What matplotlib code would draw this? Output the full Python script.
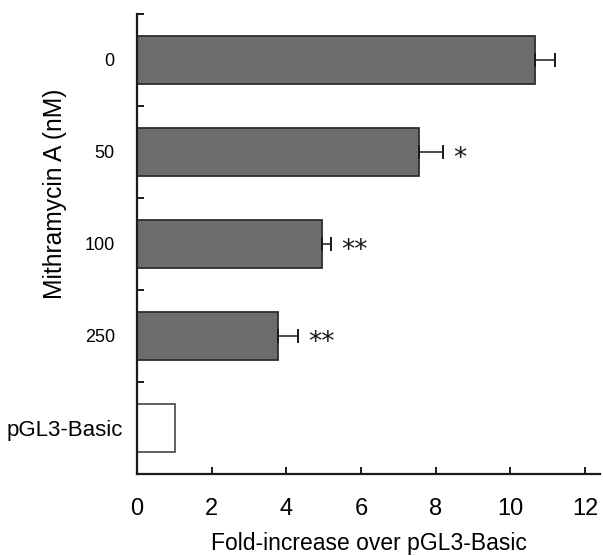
import matplotlib
matplotlib.use("Agg")
from matplotlib import pyplot as plt
from matplotlib.transforms import ScaledTranslation
import numpy as np

# Luciferase activity per treatment, top to bottom
groups = ["0", "50", "100", "250", "pGL3-Basic"]
fold = [10.66, 7.55, 4.95, 3.78, 1.03]
err = [0.53, 0.64, 0.24, 0.53, 0.0]
stars = ["", "*", "**", "**", ""]

plt.rcParams['font.family'] = ['Liberation Sans', 'DejaVu Sans']

fig = plt.figure(figsize=(6.03, 5.56), dpi=100)
ax = fig.add_axes([0.2272, 0.1475, 0.768, 0.8275])

pos = np.arange(len(groups))
fills = ["#6c6c6c"] * 4 + ["white"]
edges = ["#2e2e2e"] * 4 + ["#555555"]
ax.barh(pos, fold, height=0.52, color=fills, edgecolor=edges, linewidth=1.3)

# one-sided error bars, only for the treated samples
for p, v, e in zip(pos, fold, err):
    if e > 0:
        ax.errorbar(v, p, xerr=[[0], [e]], fmt="none", ecolor="#1a1a1a",
                    elinewidth=1.1, capsize=5, capthick=1.4)

# significance marks; the asterisk glyph sits high, so nudge it down a bit
for p, v, e, s in zip(pos, fold, err, stars):
    if s:
        ax.text(v + e + 0.28, p + 0.08, s, ha="left", va="center", fontsize=19,
                family="DejaVu Sans", color="#1a1a1a")

ax.set_ylim(4.5, -0.5)
ax.set_xlim(0, 12.4)

ax.spines['top'].set_visible(False)
ax.spines['right'].set_visible(False)
for sp in ('left', 'bottom'):
    ax.spines[sp].set_linewidth(1.6)
    ax.spines[sp].set_color("#1a1a1a")

ax.set_xticks([0, 2, 4, 6, 8, 10, 12])
ax.tick_params(axis='x', direction='in', length=5, width=1.4, pad=17,
               labelsize=17, color="#1a1a1a")
ax.xaxis.get_major_ticks()[0].tick1line.set_visible(False)

ax.set_yticks(pos)
ax.set_yticklabels(groups)
ax.tick_params(axis='y', length=0, pad=16, labelsize=13)
last = ax.get_yticklabels()[-1]
last.set_fontsize(16)
last.set_transform(last.get_transform() + ScaledTranslation(8 / 100, 0, fig.dpi_scale_trans))
ax.set_yticks([-0.5, 0.5, 1.5, 2.5, 3.5], minor=True)
ax.tick_params(axis='y', which='minor', direction='in', length=5, width=1.4,
               color="#1a1a1a")

ax.set_xlabel("Fold-increase over pGL3-Basic", fontsize=16.5, labelpad=9)
ax.set_ylabel("Mithramycin A (nM)", fontsize=17.7, va='center')
ax.yaxis.set_label_coords(-0.178, 0.61)

fig.savefig("out.png", dpi=100)
